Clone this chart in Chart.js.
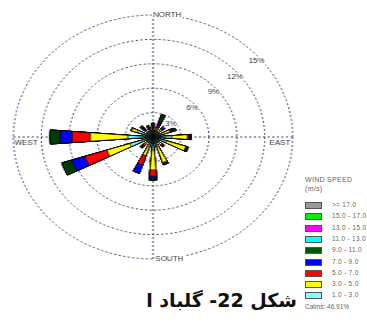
<!DOCTYPE html>
<html>
<head>
<meta charset="utf-8">
<script src="https://cdn.jsdelivr.net/npm/chart.js@4.4.1/dist/chart.umd.min.js"></script>
<style>
  body { margin: 0; width: 367px; height: 325px; overflow: hidden; position: relative; background: #fff;
         font-family: "Liberation Sans", Arial, sans-serif; }
  #rose { position: absolute; left: 23px; top: 7px; transform-origin: 130px 130px; transform: scaleX(1.145); }
  #legend { position: absolute; left: 305px; top: 176px; width: 62px; height: 140px; color: #666; font-size: 7px; }
  #legend .title { position: absolute; left: 0; letter-spacing: 0.3px; white-space: nowrap; }
  #legend .row { position: absolute; left: 0; height: 8px; white-space: nowrap; }
  #legend .box { position: absolute; left: 0; top: 0; width: 15px; height: 5px; border: 1px solid #555; }
  #legend .txt { position: absolute; left: 27px; top: -1px; font-size: 6.5px; letter-spacing: 0.3px; }
  #caption { position: absolute; left: 147px; top: 289px; width: 150px; height: 30px; overflow: hidden;
             direction: rtl; text-align: right; white-space: nowrap;
             font-family: "DejaVu Sans", sans-serif; font-weight: bold; font-size: 19px; color: #111; }
</style>
</head>
<body>
<canvas id="rose" width="260" height="260"></canvas>
<div id="legend"></div>
<div id="caption" dir="rtl"></div>
<script>
const directions = ['N', 'NNE', 'NE', 'ENE', 'E', 'ESE', 'SE', 'SSE', 'S', 'SSW', 'SW', 'WSW', 'W', 'WNW', 'NW', 'NNW'];
const compassNames = ['NORTH', 'EAST', 'SOUTH', 'WEST'];
const speedClasses = ['1.0 - 3.0', '3.0 - 5.0', '5.0 - 7.0', '7.0 - 9.0', '9.0 - 11.0',
                      '11.0 - 13.0', '13.0 - 15.0', '15.0 - 17.0', '>= 17.0'];

// frequency (%) per direction for each wind speed class
const freq1to3   = [0.6, 0.7, 0.7, 0.9, 2.0, 1.5, 0.8, 1.2, 1.6, 1.0, 0.8, 2.6, 2.7, 1.8, 0.8, 0.6];
const freq3to5   = [0.3, 0.5, 0.5, 1.0, 1.7, 2.2, 0.5, 2.1, 2.45, 1.4, 0.4, 2.6, 4.05, 0.6, 0.3, 0.3];
const freq5to7   = [0.2, 0.3, 0.2, 0.2, 0.15, 0.1, 0.1, 0.1, 0.75, 1.2, 0.2, 2.5, 1.95, 0.1, 0.2, 0.2];
const freq7to9   = [0.2, 0.4, 0.3, 0.2, 0.1, 0.1, 0.1, 0.1, 0.25, 1.0, 0.1, 1.45, 1.25, 0, 0.2, 0.1];
const freq9to11  = [0.4, 1.0, 0.5, 0.3, 0.15, 0.1, 0.1, 0.1, 0.25, 0.1, 0.3, 1.15, 1.1, 0, 0.3, 0.3];
const freq11to13 = [0, 0, 0, 0, 0, 0, 0, 0, 0, 0, 0, 0, 0, 0, 0, 0];
const freq13to15 = [0, 0, 0, 0, 0, 0, 0, 0, 0, 0, 0, 0, 0, 0, 0, 0];
const freq15to17 = [0, 0, 0, 0, 0, 0, 0, 0, 0, 0, 0, 0, 0, 0, 0, 0];
const freqOver17 = [0, 0, 0, 0, 0, 0, 0, 0, 0, 0, 0, 0, 0, 0, 0, 0];

const radialTicks = [3, 6, 9, 12, 15];
const tickLabels = ['3%', '6%', '9%', '12%', '15%'];
const calms = 46.91;
const captionText = 'شکل 22- گلباد اردیبهشت ماه';

const classColors = ['#7fffff', '#ffff00', '#ff0000', '#0000ff', '#003c00', '#00ffff', '#ff00ff', '#00ee00', '#999999'];
const legendColors = ['#7fffff', '#ffff00', '#ff0000', '#0000ff', '#005a00', '#00ffff', '#ff00ff', '#00ee00', '#999999'];
const classFreqs = [freq1to3, freq3to5, freq5to7, freq7to9, freq9to11, freq11to13, freq13to15, freq15to17, freqOver17];

const PETAL = 9;                          // petal width in degrees
const SECTOR = 360 / directions.length;   // 22.5

// [lead, N, gap, NNE, gap, ... NNW]; the lead has a negative angle so each petal is centred on its direction
function petalData(values) {
  const out = [0];
  values.forEach((v, i) => {
    out.push(v);
    if (i < values.length - 1) out.push(0);
  });
  return out;
}

// speed classes are stacked: each dataset holds the running total, the lowest class is drawn on top
let running = directions.map(() => 0);
const datasets = classFreqs.map((freqs, k) => {
  running = running.map((sum, i) => sum + freqs[i]);
  return {
    label: speedClasses[k],
    data: petalData(running),
    backgroundColor: (c) => (c.dataIndex % 2 ? classColors[k] : 'rgba(0,0,0,0)'),
    borderColor: '#000',
    borderWidth: (c) => (c.dataIndex % 2 ? 0.8 : 0),
    angle: (c) => (c.dataIndex === 0 ? -PETAL / 2 : (c.dataIndex % 2 ? PETAL : SECTOR - PETAL)),
  };
});

const gridColor = '#45457a';

function tag(ctx, text, x, y, backdrop) {
  const w = ctx.measureText(text).width;
  if (backdrop) {
    ctx.fillStyle = '#fff';
    ctx.fillRect(x - 1, y - 4, w + 2, 8);
  }
  ctx.fillStyle = '#333';
  ctx.fillText(text, x, y);
}

const roseLabels = {
  id: 'roseLabels',
  afterDraw(chart) {
    const r = chart.scales.r;
    const ctx = chart.ctx;
    ctx.save();
    ctx.font = '7px "Liberation Sans", Arial, sans-serif';
    ctx.textBaseline = 'middle';
    ctx.textAlign = 'left';

    // percentage rings are labelled along the north-east
    const a = 50 * Math.PI / 180;
    radialTicks.forEach((v, i) => {
      const d = r.getDistanceFromCenterForValue(v) - 4;
      const w = ctx.measureText(tickLabels[i]).width;
      tag(ctx, tickLabels[i], r.xCenter + d * Math.sin(a) - w / 2, r.yCenter - d * Math.cos(a), true);
    });

    const R = r.getDistanceFromCenterForValue(r.max);
    const n = r.getPointPosition(0, R);
    const e = r.getPointPosition(1, R);
    const s = r.getPointPosition(2, R);
    const w = r.getPointPosition(3, R);
    tag(ctx, compassNames[0], n.x, n.y, true);
    tag(ctx, compassNames[2], s.x + 2, s.y, true);
    tag(ctx, compassNames[3], w.x + 1, w.y + 6, false);
    tag(ctx, compassNames[1], e.x - 2 - ctx.measureText(compassNames[1]).width, e.y + 6, false);
    ctx.restore();
  }
};

new Chart(document.getElementById('rose'), {
  type: 'polarArea',
  data: { labels: compassNames, datasets },
  options: {
    responsive: false,
    animation: false,
    events: [],
    layout: { padding: 8 },
    plugins: { legend: { display: false }, tooltip: { enabled: false } },
    scales: {
      r: {
        min: 0,
        max: 15,
        startAngle: 0,
        ticks: { display: false, stepSize: 3 },
        grid: { circular: true, color: gridColor, lineWidth: 1 },
        border: { dash: [2, 2] },
        angleLines: { display: true, color: gridColor, lineWidth: 1, borderDash: [2, 2] },
        pointLabels: { display: false },
      }
    }
  },
  plugins: [roseLabels]
});

// legend: highest class at the top
const legend = document.getElementById('legend');
legend.innerHTML = '<div class="title" style="top:0">WIND SPEED</div><div class="title" style="top:9px">(m/s)</div>';
speedClasses.slice().reverse().forEach((name, i) => {
  const k = speedClasses.length - 1 - i;
  const row = document.createElement('div');
  row.className = 'row';
  row.style.top = (26 + i * 11.3) + 'px';
  row.innerHTML = `<div class="box" style="background:${legendColors[k]}"></div><div class="txt">${name}</div>`;
  legend.appendChild(row);
});
const calmRow = document.createElement('div');
calmRow.className = 'row';
calmRow.style.top = '127px';
calmRow.style.fontSize = '6.5px';
calmRow.textContent = `Calms: ${calms.toFixed(2)}%`;
legend.appendChild(calmRow);

document.getElementById('caption').textContent = captionText;
</script>
</body>
</html>
